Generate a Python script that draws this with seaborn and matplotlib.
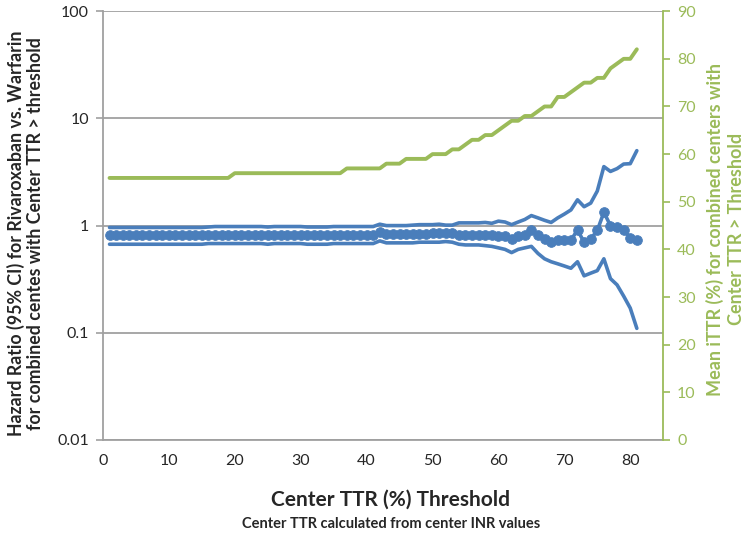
import numpy as np
import pandas as pd
import matplotlib
matplotlib.use('Agg')
import matplotlib.pyplot as plt
import seaborn as sns

# ==== Data ====
threshold = list(range(1, 82))

hr_upper = [0.96, 0.96, 0.96, 0.96, 0.96, 0.96, 0.96, 0.96, 0.96, 0.96,
            0.96, 0.96, 0.96, 0.96, 0.96, 0.97, 0.98, 0.98, 0.98, 0.98,
            0.98, 0.98, 0.98, 0.98, 0.97, 0.98, 0.98, 0.98, 0.98, 0.98,
            0.97, 0.97, 0.97, 0.97, 0.98, 0.98, 0.98, 0.98, 0.98, 0.98,
            0.98, 1.03, 1.00, 1.00, 1.00, 1.00, 1.01, 1.02, 1.02, 1.02,
            1.03, 1.01, 1.01, 1.06, 1.06, 1.06, 1.06, 1.07, 1.05, 1.10,
            1.08, 1.02, 1.08, 1.14, 1.24, 1.18, 1.12, 1.07, 1.18, 1.28,
            1.40, 1.74, 1.50, 1.62, 2.10, 3.55, 3.20, 3.40, 3.75, 3.78,
            5.00]

hr = [0.81, 0.81, 0.81, 0.81, 0.81, 0.81, 0.81, 0.81, 0.81, 0.81,
      0.81, 0.81, 0.81, 0.81, 0.81, 0.81, 0.82, 0.82, 0.82, 0.82,
      0.82, 0.82, 0.82, 0.82, 0.81, 0.82, 0.82, 0.82, 0.82, 0.82,
      0.81, 0.81, 0.81, 0.81, 0.82, 0.82, 0.82, 0.82, 0.82, 0.82,
      0.82, 0.87, 0.84, 0.83, 0.83, 0.83, 0.84, 0.84, 0.84, 0.85,
      0.85, 0.86, 0.85, 0.82, 0.82, 0.82, 0.82, 0.82, 0.81, 0.80,
      0.80, 0.75, 0.80, 0.82, 0.90, 0.81, 0.75, 0.71, 0.73, 0.73,
      0.73, 0.91, 0.70, 0.75, 0.90, 1.33, 1.00, 0.96, 0.91, 0.77,
      0.735]

hr_lower = [0.67, 0.67, 0.67, 0.67, 0.67, 0.67, 0.67, 0.67, 0.67, 0.67,
            0.67, 0.67, 0.67, 0.67, 0.67, 0.68, 0.68, 0.68, 0.68, 0.68,
            0.68, 0.68, 0.68, 0.68, 0.67, 0.68, 0.68, 0.68, 0.68, 0.68,
            0.67, 0.67, 0.67, 0.67, 0.68, 0.68, 0.68, 0.68, 0.68, 0.68,
            0.68, 0.72, 0.69, 0.69, 0.69, 0.69, 0.69, 0.70, 0.70, 0.70,
            0.70, 0.71, 0.70, 0.67, 0.66, 0.66, 0.66, 0.65, 0.64, 0.62,
            0.60, 0.56, 0.60, 0.62, 0.64, 0.55, 0.49, 0.46, 0.44, 0.42,
            0.40, 0.46, 0.34, 0.36, 0.38, 0.49, 0.32, 0.28, 0.22, 0.17,
            0.11]

mean_ittr = [55, 55, 55, 55, 55, 55, 55, 55, 55, 55,
             55, 55, 55, 55, 55, 55, 55, 55, 55, 56,
             56, 56, 56, 56, 56, 56, 56, 56, 56, 56,
             56, 56, 56, 56, 56, 56, 57, 57, 57, 57,
             57, 57, 58, 58, 58, 59, 59, 59, 59, 60,
             60, 60, 61, 61, 62, 63, 63, 64, 64, 65,
             66, 67, 67, 68, 68, 69, 70, 70, 72, 72,
             73, 74, 75, 75, 76, 76, 78, 79, 80, 80,
             82]

left_ticks = [0.01, 0.1, 1, 10, 100]
left_ticklabels = ["0.01", "0.1", "1", "10", "100"]
right_ticks = list(range(0, 91, 10))
x_ticks = list(range(0, 81, 10))

df = pd.DataFrame({
    "threshold": threshold,
    "upper": hr_upper,
    "hr": hr,
    "lower": hr_lower,
    "ittr": mean_ittr,
})

# ==== Style ====
sns.set_style("white")
plt.rcParams["font.family"] = ["Lato", "DejaVu Sans"]

blue = "#4A7EBB"
green = "#9BBB59"
grey = "#A0A0A0"

fig, ax = plt.subplots(figsize=(7.46, 5.33), dpi=100)
fig.subplots_adjust(left=0.138, right=0.889, bottom=0.1745, top=0.979)

# ==== Hazard ratio with CI (log axis) ====
sns.lineplot(data=df, x="threshold", y="upper", ax=ax, color=blue, lw=2.6)
sns.lineplot(data=df, x="threshold", y="lower", ax=ax, color=blue, lw=2.6)
sns.lineplot(data=df, x="threshold", y="hr", ax=ax, color=blue, lw=2.6,
             marker="o", markersize=7, markeredgecolor=blue,
             markeredgewidth=0.6)

ax.set_yscale("log")
ax.set_ylim(0.01, 100)
ax.set_yticks(left_ticks)
ax.set_yticklabels(left_ticklabels)
ax.yaxis.set_minor_locator(matplotlib.ticker.NullLocator())
ax.set_xlim(0, 85)
ax.set_xticks(x_ticks)
ax.yaxis.grid(True, color=grey, lw=1.3)
ax.xaxis.grid(False)
ax.set_axisbelow(True)
for side in ["top", "right"]:
    ax.spines[side].set_visible(False)
for side in ["left", "bottom"]:
    ax.spines[side].set_color(grey)
    ax.spines[side].set_linewidth(1.3)
ax.tick_params(axis="both", direction="out", length=5, width=1.2,
               color=grey, labelsize=11.5, pad=5)
ax.set_xlabel("")
ax.set_ylabel("")

# ==== Mean iTTR (right axis) ====
ax2 = ax.twinx()
sns.lineplot(data=df, x="threshold", y="ittr", ax=ax2, color=green, lw=2.8)
ax2.set_ylim(0, 90)
ax2.set_yticks(right_ticks)
ax2.set_xlim(0, 85)
for side in ["top", "left", "bottom"]:
    ax2.spines[side].set_visible(False)
ax2.spines["right"].set_color(green)
ax2.spines["right"].set_linewidth(1.3)
ax2.tick_params(axis="y", direction="out", length=5, width=1.2,
                color=green, labelcolor=green, labelsize=11.5, pad=5)
ax2.set_ylabel("")
ax2.grid(False)

# ==== Labels ====
fig.text(0.034, 0.562,
         "Hazard Ratio (95% CI) for Rivaroxaban vs. Warfarin\n"
         "for combined centes with Center TTR > threshold",
         rotation=90, ha="center", va="center", fontsize=12.8,
         fontweight="bold", linespacing=1.1)
fig.text(0.972, 0.57,
         "Mean iTTR (%) for combined centers with\nCenter TTR > Threshold",
         rotation=90, ha="center", va="center", fontsize=13,
         fontweight="bold", color=green, linespacing=1.3)
fig.text(0.524, 0.062, "Center TTR (%) Threshold",
         ha="center", va="center", fontsize=15, fontweight="bold")
fig.text(0.524, 0.016, "Center TTR calculated from center INR values",
         ha="center", va="center", fontsize=10.5, fontweight="bold")

plt.savefig("out.png", dpi=100)
plt.close()
